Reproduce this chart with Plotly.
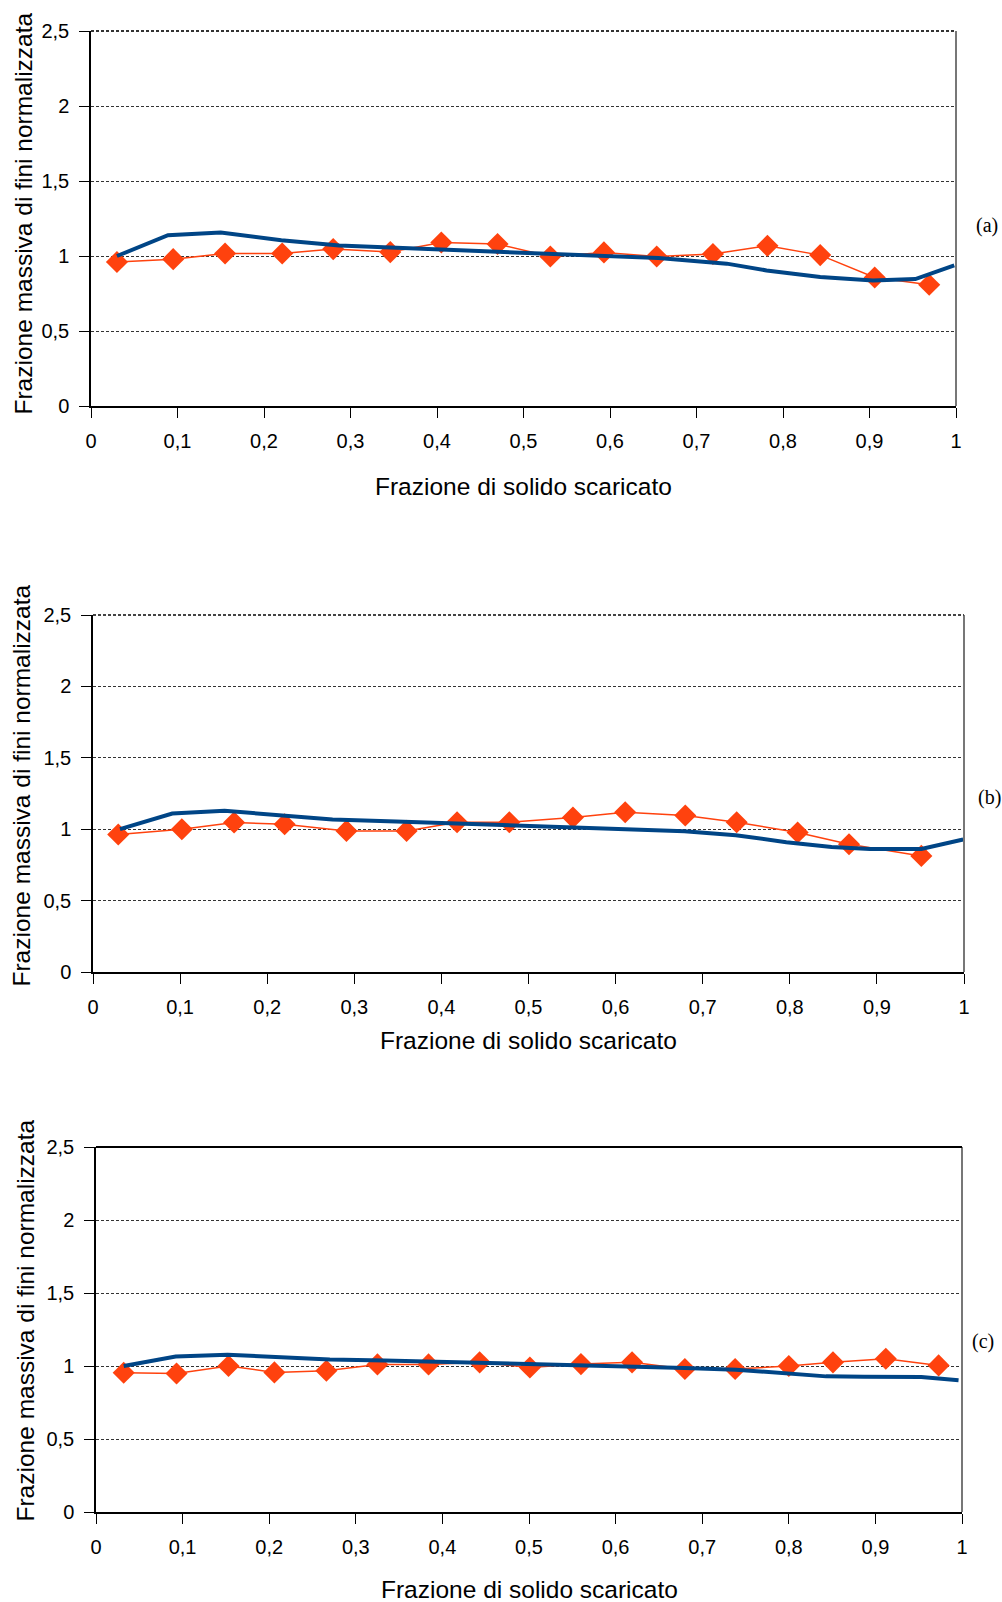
import plotly.graph_objects as go

# Panel (a): measured points (diamonds) and model curve
a_meas_x = [0.030, 0.095, 0.155, 0.221, 0.280, 0.346, 0.405, 0.470, 0.531, 0.593, 0.654, 0.719, 0.782, 0.843, 0.906, 0.969]
a_meas_y = [0.960, 0.979, 1.017, 1.017, 1.046, 1.026, 1.090, 1.080, 0.997, 1.024, 0.997, 1.013, 1.068, 1.006, 0.857, 0.808]
a_model_x = [0.030, 0.089, 0.150, 0.220, 0.287, 0.353, 0.412, 0.470, 0.530, 0.597, 0.656, 0.735, 0.781, 0.843, 0.904, 0.953, 0.998]
a_model_y = [1.000, 1.139, 1.157, 1.105, 1.070, 1.052, 1.041, 1.028, 1.013, 0.997, 0.986, 0.949, 0.904, 0.860, 0.837, 0.846, 0.937]

# Panel (b)
b_meas_x = [0.029, 0.102, 0.162, 0.220, 0.291, 0.360, 0.418, 0.478, 0.551, 0.611, 0.680, 0.739, 0.809, 0.868, 0.951]
b_meas_y = [0.963, 1.000, 1.047, 1.035, 0.988, 0.988, 1.049, 1.049, 1.082, 1.119, 1.096, 1.049, 0.977, 0.895, 0.813]
b_model_x = [0.031, 0.091, 0.151, 0.216, 0.275, 0.348, 0.422, 0.480, 0.554, 0.613, 0.679, 0.738, 0.796, 0.848, 0.892, 0.951, 0.999]
b_model_y = [1.000, 1.110, 1.129, 1.096, 1.068, 1.054, 1.040, 1.028, 1.012, 1.002, 0.986, 0.958, 0.909, 0.876, 0.862, 0.862, 0.928]

# Panel (c)
c_meas_x = [0.032, 0.093, 0.153, 0.206, 0.266, 0.325, 0.384, 0.443, 0.501, 0.560, 0.619, 0.680, 0.738, 0.800, 0.851, 0.912, 0.973]
c_meas_y = [0.954, 0.949, 1.000, 0.956, 0.967, 1.011, 1.011, 1.025, 0.990, 1.013, 1.025, 0.979, 0.979, 1.000, 1.025, 1.050, 1.004]
c_model_x = [0.032, 0.092, 0.152, 0.214, 0.270, 0.333, 0.407, 0.480, 0.554, 0.621, 0.680, 0.739, 0.805, 0.843, 0.887, 0.953, 0.996]
c_model_y = [1.000, 1.065, 1.077, 1.061, 1.045, 1.038, 1.027, 1.020, 1.009, 1.000, 0.986, 0.975, 0.945, 0.929, 0.927, 0.925, 0.902]

panel_labels = ["(a)", "(b)", "(c)"]
x_title = "Frazione di solido scaricato"
y_title = "Frazione massiva di fini normalizzata"

W, H = 1002, 1602
ORANGE = "#FF420E"
BLUE = "#004586"

# plot areas in pixels: (left, right, top, bottom)
boxes = [(91, 956, 31, 406), (93, 964, 615, 972), (96, 962, 1147, 1512)]
# x-title centre y, y-title centre (x, y), panel label (x, y)
xtitle_y = [486, 1040, 1589]
ytitle_pos = [(22.5, 214), (20.5, 786), (24.5, 1321)]
label_pos = [(987, 225), (989, 797), (983, 1341)]
# top frame edge style per panel
top_edge = [("#333", "3px,2px"), ("#444", "3px,2px"), ("#000", "solid")]

data = [
    (a_meas_x, a_meas_y, a_model_x, a_model_y),
    (b_meas_x, b_meas_y, b_model_x, b_model_y),
    (c_meas_x, c_meas_y, c_model_x, c_model_y),
]

fig = go.Figure()
TICKFONT = dict(family="Liberation Sans, Arial, sans-serif", size=20, color="#000")
TITLEFONT = dict(family="Liberation Sans, Arial, sans-serif", size=24.5, color="#000")

annotations = []
shapes = []
for i, (mx, my, lx, ly) in enumerate(data):
    n = "" if i == 0 else str(i + 1)
    xa, ya = "x" + n, "y" + n
    fig.add_trace(go.Scatter(
        x=mx, y=my, xaxis=xa, yaxis=ya, mode="lines+markers",
        line=dict(color=ORANGE, width=1.5),
        marker=dict(symbol="diamond", size=17, color=ORANGE),
        showlegend=False, hoverinfo="skip"))
    fig.add_trace(go.Scatter(
        x=lx, y=ly, xaxis=xa, yaxis=ya, mode="lines",
        line=dict(color=BLUE, width=4),
        showlegend=False, hoverinfo="skip"))

    l, r, t, b = boxes[i]
    xdom = [l / W, r / W]
    ydom = [1 - b / H, 1 - t / H]
    fig.layout["xaxis" + n] = dict(
        domain=xdom, anchor=ya, range=[0, 1], dtick=0.1, tick0=0, automargin=False,
        showgrid=False, zeroline=False, showline=True, linecolor="#000", linewidth=1.5,
        ticks="outside", ticklen=10, tickcolor="#000", tickwidth=1,
        tickfont=TICKFONT, ticklabelstandoff=6)
    fig.layout["yaxis" + n] = dict(
        domain=ydom, anchor=xa, range=[0, 2.5], dtick=0.5, tick0=0, automargin=False,
        showgrid=True, gridcolor="#333", gridwidth=1, griddash="3px,2px",
        zeroline=False, showline=True, linecolor="#000", linewidth=1.5,
        ticks="outside", ticklen=10, tickcolor="#000", tickwidth=1,
        tickfont=TICKFONT, ticklabelstandoff=6)

    # right and top edges of the plot frame
    shapes.append(dict(type="line", xref=xa + " domain", yref=ya + " domain",
                       x0=1, x1=1, y0=0, y1=1, line=dict(color="#777", width=2)))
    col, dash = top_edge[i]
    shapes.append(dict(type="line", xref=xa + " domain", yref=ya + " domain",
                       x0=0, x1=1, y0=1, y1=1, line=dict(color=col, width=2, dash=dash)))

    annotations.append(dict(text=x_title, xref="paper", yref="paper",
                            x=(l + r) / 2 / W, y=1 - xtitle_y[i] / H,
                            xanchor="center", yanchor="middle", showarrow=False,
                            font=TITLEFONT))
    yx, yy = ytitle_pos[i]
    annotations.append(dict(text=y_title, xref="paper", yref="paper",
                            x=yx / W, y=1 - yy / H, textangle=-90,
                            xanchor="center", yanchor="middle", showarrow=False,
                            font=TITLEFONT))
    px, py = label_pos[i]
    annotations.append(dict(text=panel_labels[i], xref="paper", yref="paper",
                            x=px / W, y=1 - py / H,
                            xanchor="center", yanchor="middle", showarrow=False,
                            font=dict(family="Liberation Serif, Times New Roman, serif",
                                      size=20, color="#000")))

fig.update_layout(
    width=W, height=H, margin=dict(l=0, r=0, t=0, b=0, autoexpand=False),
    paper_bgcolor="white", plot_bgcolor="white",
    separators=", ", annotations=annotations, shapes=shapes)

fig.write_html("out.html")
